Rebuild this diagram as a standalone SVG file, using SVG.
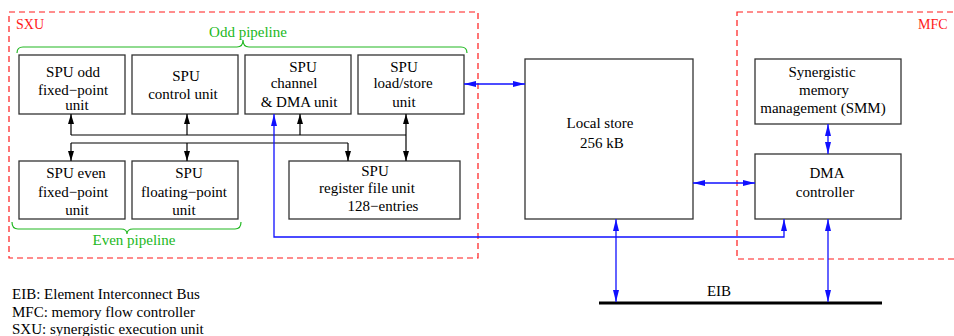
<svg xmlns="http://www.w3.org/2000/svg" width="954" height="336" viewBox="0 0 954 336">
  <style>
    text { font-family: "Liberation Serif", "Times New Roman", serif; font-size: 15px; fill: #000; }
    .c { text-anchor: middle; }
    .box { fill: #fff; stroke: #333; stroke-width: 1.3; }
    .region { fill: none; stroke: #ff1a1a; stroke-width: 1.2; stroke-dasharray: 6 4; }
    .rlabel { fill: #ff1a1a; font-size: 14px; }
    .brace { fill: none; stroke: #22b822; stroke-width: 1.2; }
    .glabel { fill: #22b822; }
    .k { fill: none; stroke: #000; stroke-width: 1.2; }
    .b { fill: none; stroke: #1010ff; stroke-width: 1.3; }
    .bus { fill: none; stroke: #000; stroke-width: 3; }
  </style>
  <defs>
    <marker id="ak" markerUnits="userSpaceOnUse" markerWidth="10" markerHeight="6" refX="10" refY="3" orient="auto-start-reverse">
      <path d="M0,0 L10,3 L0,6 z" fill="#000"/>
    </marker>
    <marker id="ab" markerUnits="userSpaceOnUse" markerWidth="12" markerHeight="6" refX="12" refY="3" orient="auto-start-reverse">
      <path d="M0,0 L12,3 L0,6 z" fill="#1010ff"/>
    </marker>
  </defs>

  <!-- execution unit and memory flow controller regions -->
  <g id="sxu">
    <rect class="region" x="9" y="12" width="469" height="246"/>
    <text class="rlabel" x="16" y="29">SXU</text>
  </g>
  <g id="mfc">
    <rect class="region" x="737" y="12" width="230" height="247"/>
    <text class="rlabel" x="918" y="29">MFC</text>
  </g>

  <!-- pipeline braces -->
  <g id="odd-pipeline">
    <path class="brace" d="M17,53 Q17,47 23,47 H237 Q243,47 243,40 Q243,47 249,47 H461 Q467,47 467,53"/>
    <text class="glabel c" x="248" y="37">Odd pipeline</text>
  </g>
  <g id="even-pipeline">
    <path class="brace" d="M12,222 Q12,229 18,229 H121 Q127,229 127,234 Q127,229 133,229 H235 Q241,229 241,222"/>
    <text class="glabel c" x="134" y="245">Even pipeline</text>
  </g>

  <!-- odd pipeline units -->
  <g id="spu-odd-fx">
    <rect class="box" x="19" y="55" width="106" height="59"/>
    <text class="c" x="73" y="77">SPU odd</text>
    <text class="c" x="73" y="95">fixed−point</text>
    <text class="c" x="77" y="110">unit</text>
  </g>
  <g id="spu-control">
    <rect class="box" x="132" y="55" width="106" height="59"/>
    <text class="c" x="186" y="81">SPU</text>
    <text class="c" x="183" y="99">control unit</text>
  </g>
  <g id="spu-channel">
    <rect class="box" x="245" y="55" width="106" height="59"/>
    <text class="c" x="303" y="72">SPU</text>
    <text class="c" x="294" y="88">channel</text>
    <text class="c" x="299" y="107">&amp; DMA unit</text>
  </g>
  <g id="spu-ls">
    <rect class="box" x="358" y="55" width="106" height="59"/>
    <text class="c" x="404" y="72">SPU</text>
    <text class="c" x="403" y="88">load/store</text>
    <text class="c" x="404" y="107">unit</text>
  </g>

  <!-- even pipeline units and register file -->
  <g id="spu-even-fx">
    <rect class="box" x="19" y="161" width="106" height="58"/>
    <text class="c" x="76" y="178">SPU even</text>
    <text class="c" x="73" y="197">fixed−point</text>
    <text class="c" x="77" y="215">unit</text>
  </g>
  <g id="spu-fp">
    <rect class="box" x="132" y="161" width="106" height="58"/>
    <text class="c" x="189" y="178">SPU</text>
    <text class="c" x="184" y="197">floating−point</text>
    <text class="c" x="184" y="215">unit</text>
  </g>
  <g id="spu-regfile">
    <rect class="box" x="289" y="161" width="171" height="58"/>
    <text class="c" x="375" y="176">SPU</text>
    <text class="c" x="367" y="193">register file unit</text>
    <text class="c" x="383" y="211">128−entries</text>
  </g>

  <!-- local store and MFC units -->
  <g id="local-store">
    <rect class="box" x="525" y="59" width="168" height="160"/>
    <text class="c" x="600" y="128">Local store</text>
    <text class="c" x="602" y="148">256 kB</text>
  </g>
  <g id="smm">
    <rect class="box" x="755" y="59" width="146" height="65"/>
    <text class="c" x="822" y="77">Synergistic</text>
    <text class="c" x="824" y="95">memory</text>
    <text class="c" x="823" y="113">management (SMM)</text>
  </g>
  <g id="dma">
    <rect class="box" x="755" y="154" width="146" height="65"/>
    <text class="c" x="827" y="178">DMA</text>
    <text class="c" x="825" y="197">controller</text>
  </g>

  <!-- element interconnect bus -->
  <g id="eib">
    <path class="bus" d="M599,303 H882"/>
    <text class="c" x="719" y="296">EIB</text>
  </g>

  <!-- connectors -->
  <g id="connectors">
    <!-- register file to odd pipeline -->
    <path class="k" d="M71,135 H406"/>
    <path class="k" d="M71,135 V114" marker-end="url(#ak)"/>
    <path class="k" d="M187,135 V114" marker-end="url(#ak)"/>
    <path class="k" d="M300,135 V114" marker-end="url(#ak)"/>
    <path class="k" d="M406,114 V161" marker-start="url(#ak)" marker-end="url(#ak)"/>
    <!-- register file to even pipeline -->
    <path class="k" d="M71,143 H348"/>
    <path class="k" d="M71,143 V161" marker-end="url(#ak)"/>
    <path class="k" d="M187,143 V161" marker-end="url(#ak)"/>
    <path class="k" d="M348,143 V161" marker-end="url(#ak)"/>
    <!-- data paths -->
    <path class="b" d="M464,84 H525" marker-start="url(#ab)" marker-end="url(#ab)"/>
    <path class="b" d="M784,219 V237 H274 V114" marker-start="url(#ab)" marker-end="url(#ab)"/>
    <path class="b" d="M828,124 V154" marker-start="url(#ab)" marker-end="url(#ab)"/>
    <path class="b" d="M693,183 H755" marker-start="url(#ab)" marker-end="url(#ab)"/>
    <path class="b" d="M616,219 V302" marker-start="url(#ab)" marker-end="url(#ab)"/>
    <path class="b" d="M828,219 V302" marker-start="url(#ab)" marker-end="url(#ab)"/>
  </g>

  <!-- legend -->
  <g id="legend">
    <text x="12" y="299">EIB: Element Interconnect Bus</text>
    <text x="12" y="317">MFC: memory flow controller</text>
    <text x="12" y="334">SXU: synergistic execution unit</text>
  </g>
</svg>
